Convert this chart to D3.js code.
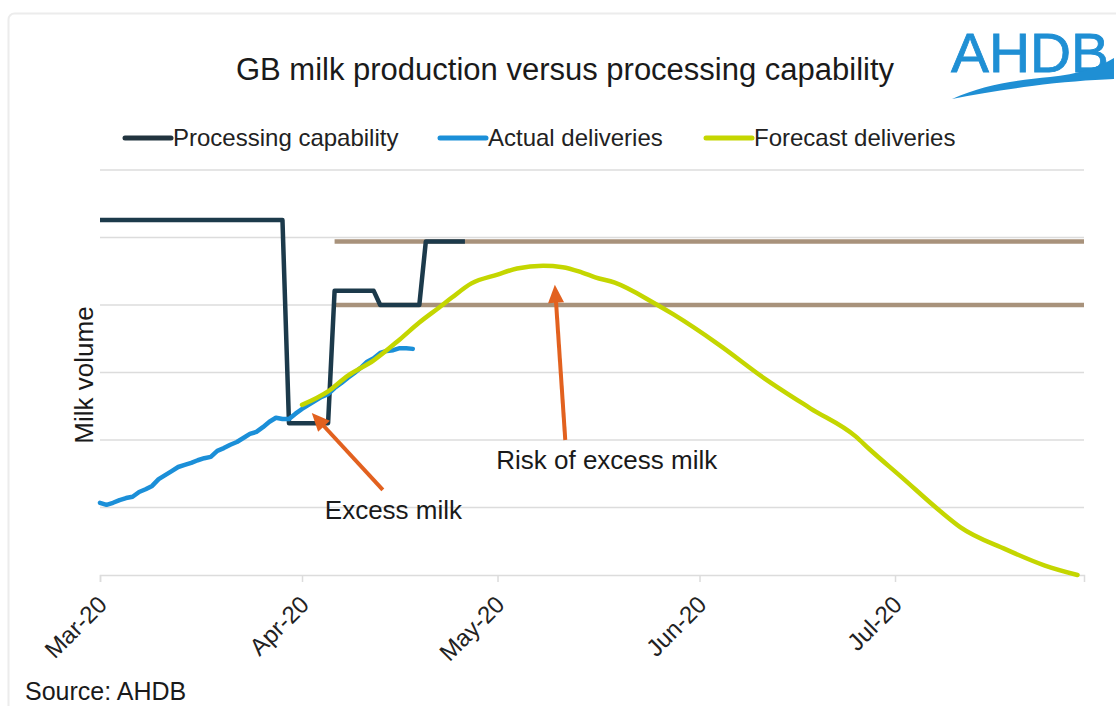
<!DOCTYPE html>
<html>
<head>
<meta charset="utf-8">
<script src="https://cdn.jsdelivr.net/npm/d3@7.9.0/dist/d3.min.js"></script>
<style>
  body { margin: 0; background: #fff; }
  svg { display: block; font-family: "Liberation Sans", Arial, sans-serif; }
</style>
</head>
<body>
<svg id="chart" width="1116" height="706"></svg>
<script>
// ---- data (arbitrary volume units) ----
const monthTicks = ["2020-03-01", "2020-04-01", "2020-05-01", "2020-06-01", "2020-07-01"];
const gridLevels = [0, 1, 2, 3, 4, 5, 6];

const processingDates = ["2020-03-01", "2020-03-29", "2020-03-30", "2020-04-05", "2020-04-06",
                         "2020-04-12", "2020-04-13", "2020-04-19", "2020-04-20", "2020-04-26"];
const processingValues = [5.26, 5.26, 2.25, 2.25, 4.21, 4.21, 4.0, 4.0, 4.94, 4.94];

// daily deliveries from 1 March
const actualStart = "2020-03-01";
const actualValues = [1.07, 1.04, 1.07, 1.11, 1.14, 1.16, 1.23, 1.27, 1.32, 1.42,
                      1.48, 1.54, 1.60, 1.63, 1.66, 1.70, 1.73, 1.75, 1.84, 1.88,
                      1.93, 1.97, 2.03, 2.09, 2.12, 2.19, 2.27, 2.33, 2.31, 2.31,
                      2.39, 2.46, 2.52, 2.58, 2.64, 2.68, 2.77, 2.84, 2.92, 2.99,
                      3.07, 3.16, 3.21, 3.29, 3.32, 3.33, 3.36, 3.36, 3.35];

const forecastDates = ["2020-04-01", "2020-04-05", "2020-04-08", "2020-04-12", "2020-04-16",
                       "2020-04-19", "2020-04-22", "2020-04-24", "2020-04-27", "2020-05-01",
                       "2020-05-04", "2020-05-08", "2020-05-11", "2020-05-14", "2020-05-16",
                       "2020-05-19", "2020-05-25", "2020-05-28", "2020-06-04", "2020-06-11",
                       "2020-06-18", "2020-06-25", "2020-06-27", "2020-07-02", "2020-07-08",
                       "2020-07-11", "2020-07-18", "2020-07-24", "2020-07-29"];
const forecastValues = [2.52, 2.72, 2.95, 3.18, 3.49, 3.74, 3.96, 4.11, 4.32, 4.45,
                        4.54, 4.58, 4.56, 4.48, 4.41, 4.33, 4.03, 3.86, 3.41, 2.91,
                        2.47, 2.05, 1.87, 1.45, 0.94, 0.71, 0.38, 0.14, 0.0];

// future capacity levels (brown lines)
const capacityLevels = [4.94, 4.0];
const capacityDates = ["2020-04-06", "2020-07-30"];

const legendLabels = ["Processing capability", "Actual deliveries", "Forecast deliveries"];
const legendColors = ["#22343f", "#1b8fd8", "#c4d600"];

// annotations: day offsets from 1 March
const annotations = [
  { label: "Excess milk", tipDay: 32.5, tipValue: 2.4, tailDay: 43.4, tailValue: 1.26, textDay: 34.5, textValue: 0.83 },
  { label: "Risk of excess milk", tipDay: 69.8, tipValue: 4.3, tailDay: 71.4, tailValue: 2.0, textDay: 60.8, textValue: 1.57 }
];

// ---- setup ----
const parse = d3.utcParse("%Y-%m-%d");
const svg = d3.select("#chart");
const start = parse("2020-03-01");
const dayToDate = n => new Date(start.getTime() + n * 864e5);

const x = d3.scaleUtc().domain([start, parse("2020-07-30")]).range([100, 1084]);
const y = d3.scaleLinear().domain([0, 6]).range([575, 170]);

// faint frame
svg.append("rect")
  .attr("x", 8.5).attr("y", 13.5).attr("width", 1130).attr("height", 710).attr("rx", 6)
  .attr("fill", "none").attr("stroke", "#ececec").attr("stroke-width", 2);

// title
svg.append("text")
  .attr("x", 565).attr("y", 80)
  .attr("text-anchor", "middle")
  .attr("font-size", 31).attr("fill", "#1a1a1a")
  .text("GB milk production versus processing capability");

// logo
const logo = svg.append("g");
logo.append("text")
  .attr("x", 951).attr("y", 72)
  .attr("font-size", 56).attr("fill", "#1f8fd4")
  .attr("stroke", "#1f8fd4").attr("stroke-width", 0.8)
  .attr("textLength", 158).attr("lengthAdjust", "spacingAndGlyphs")
  .text("AHDB");
logo.append("path")
  .attr("d", "M952,99 C985,84 1020,80 1050,77 C1078,74 1098,68 1114,58 L1114,79 C1090,80 1062,82 1032,86 C1002,90 976,94 952,99 Z")
  .attr("fill", "#1f8fd4");

// legend
const legend = svg.append("g");
const legendX = [125, 440, 706];
legendLabels.forEach((label, i) => {
  legend.append("line")
    .attr("x1", legendX[i]).attr("x2", legendX[i] + 46)
    .attr("y1", 138).attr("y2", 138)
    .attr("stroke", legendColors[i]).attr("stroke-width", 5).attr("stroke-linecap", "round");
  legend.append("text")
    .attr("x", legendX[i] + 48).attr("y", 146)
    .attr("font-size", 24).attr("fill", "#222")
    .text(label);
});

// gridlines
svg.append("g")
  .selectAll("line")
  .data(gridLevels.slice(1))
  .join("line")
  .attr("x1", 100).attr("x2", 1084)
  .attr("y1", d => y(d)).attr("y2", d => y(d))
  .attr("stroke", "#dcdcdc").attr("stroke-width", 1.5);

// x axis
const xAxis = svg.append("g")
  .attr("transform", "translate(0,575)")
  .call(d3.axisBottom(x)
    .tickValues(monthTicks.map(parse))
    .tickSize(7)
    .tickFormat(d3.utcFormat("%b-%y")));
xAxis.select(".domain").attr("stroke", "#dcdcdc").attr("stroke-width", 1.5);
xAxis.selectAll(".tick line").attr("stroke", "#dcdcdc").attr("stroke-width", 1.5);
xAxis.selectAll(".tick text")
  .attr("font-size", 24).attr("fill", "#222")
  .attr("font-family", "Liberation Sans, Arial, sans-serif")
  .attr("text-anchor", "end")
  .attr("dy", null).attr("y", null)
  .attr("transform", "translate(8,31) rotate(-45)");

// y label
svg.append("text")
  .attr("transform", "translate(93,375) rotate(-90)")
  .attr("text-anchor", "middle")
  .attr("font-size", 26).attr("fill", "#1a1a1a")
  .text("Milk volume");

// capacity lines
capacityLevels.forEach(level => {
  svg.append("line")
    .attr("x1", x(parse(capacityDates[0]))).attr("x2", x(parse(capacityDates[1])))
    .attr("y1", y(level)).attr("y2", y(level))
    .attr("stroke", "#a8927b").attr("stroke-width", 4.5);
});

const line = d3.line().x(d => x(d.date)).y(d => y(d.value));

// processing capability
const processing = processingDates.map((d, i) => ({ date: parse(d), value: processingValues[i] }));
svg.append("path")
  .datum(processing)
  .attr("d", line)
  .attr("fill", "none").attr("stroke", "#1c3a4b").attr("stroke-width", 4.5)
  .attr("stroke-linejoin", "round");

// actual deliveries
const actualStartDate = parse(actualStart);
const actual = actualValues.map((v, i) => ({ date: d3.utcDay.offset(actualStartDate, i), value: v }));
svg.append("path")
  .datum(actual)
  .attr("d", line)
  .attr("fill", "none").attr("stroke", "#1b8fd8").attr("stroke-width", 4.5)
  .attr("stroke-linejoin", "round").attr("stroke-linecap", "round");

// forecast deliveries
const forecast = forecastDates.map((d, i) => ({ date: parse(d), value: forecastValues[i] }));
svg.append("path")
  .datum(forecast)
  .attr("d", line.curve(d3.curveMonotoneX))
  .attr("fill", "none").attr("stroke", "#c4d600").attr("stroke-width", 4.5)
  .attr("stroke-linecap", "round");

// annotations
annotations.forEach(a => {
  const tx = x(dayToDate(a.tipDay)), ty = y(a.tipValue);
  const sx = x(dayToDate(a.tailDay)), sy = y(a.tailValue);
  const len = Math.hypot(tx - sx, ty - sy);
  const ux = (tx - sx) / len, uy = (ty - sy) / len;
  const headLen = 18, headHalf = 8;
  const bx = tx - ux * headLen, by = ty - uy * headLen;
  svg.append("line")
    .attr("x1", sx).attr("y1", sy).attr("x2", bx + ux * 2).attr("y2", by + uy * 2)
    .attr("stroke", "#e2611f").attr("stroke-width", 4);
  svg.append("path")
    .attr("d", `M${tx},${ty} L${bx - uy * headHalf},${by + ux * headHalf} L${bx + uy * headHalf},${by - ux * headHalf} Z`)
    .attr("fill", "#e2611f");
  svg.append("text")
    .attr("x", x(dayToDate(a.textDay))).attr("y", y(a.textValue))
    .attr("font-size", 26).attr("fill", "#1a1a1a")
    .text(a.label);
});

// source
svg.append("text")
  .attr("x", 25).attr("y", 700)
  .attr("font-size", 25).attr("fill", "#1a1a1a")
  .text("Source: AHDB");
</script>
</body>
</html>
